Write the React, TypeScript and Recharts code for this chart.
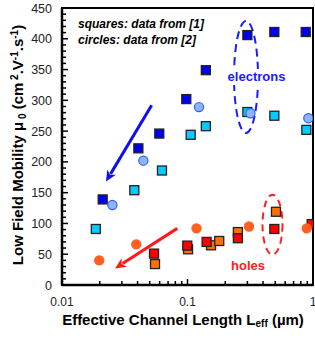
import React from 'react';
import { ScatterChart, Scatter, XAxis, YAxis, ReferenceArea, ReferenceLine, ReferenceDot } from 'recharts';

const FONT = '"Liberation Sans", Arial, sans-serif';

// ---- data ----
const elecSq1X = [0.0211, 0.0406, 0.0596, 0.0978, 0.14, 0.3, 0.492, 0.875];
const elecSq1Y = [139, 222, 246, 302, 349, 406, 411, 411];
const elecSq2X = [0.0186, 0.0377, 0.0626, 0.106, 0.14, 0.3, 0.492, 0.885];
const elecSq2Y = [91, 154, 186, 244, 258, 281, 275, 252];
const elecCirX = [0.0252, 0.0445, 0.1235, 0.317, 0.918];
const elecCirY = [130, 202, 289, 279, 271];
const holeCirX = [0.0198, 0.0391, 0.118, 0.309, 0.891];
const holeCirY = [40, 66, 92, 95, 92];
const holeRedX = [0.0541, 0.0996, 0.142, 0.252, 0.492, 0.976];
const holeRedY = [51, 64, 70, 76, 91, 99];
const holeOrX = [0.0551, 0.101, 0.154, 0.179, 0.252, 0.507];
const holeOrY = [34, 58, 64.5, 71.5, 86, 119];

// ---- ticks ----
const xMajorTicks = [0.01, 0.1, 1];
const xTickLabels = ['0.01', '0.1', '1'];
const xMinorTicks = [0.02, 0.03, 0.04, 0.05, 0.06, 0.07, 0.08, 0.09, 0.2, 0.3, 0.4, 0.5, 0.6, 0.7, 0.8, 0.9];
const yMajorTicks = [0, 50, 100, 150, 200, 250, 300, 350, 400, 450];
const yMinorStep = 10;
const yAllTicks: number[] = [];
for (let v = 0; v <= 450; v += yMinorStep) yAllTicks.push(v);

// ---- annotations ----
const noteTexts = ['squares: data from [1]', 'circles: data from [2]', 'electrons', 'holes'];
const noteX = [0.01341, 0.01341, 0.3546, 0.3034];
const noteY = [416.7, 391.5, 331.4, 23.6];
const ellipseX = [0.2926, 0.4756];
const ellipseY = [338, 98];
const blueArrow = [{ x: 0.0518, y: 292 }, { x: 0.0224, y: 168 }];
const redArrow = [{ x: 0.0829, y: 92 }, { x: 0.02644, y: 27 }];

const zip = (xs: number[], ys: number[]) => xs.map((x, i) => ({ x, y: ys[i] }));

const square = (color: string) => (p: any) => (
  <rect x={p.cx - 4.5} y={p.cy - 4.5} width={9} height={9} fill={color} stroke="#222" strokeWidth={1.3} />
);
const circle = (fill: string, stroke: string) => (p: any) => (
  <circle cx={p.cx} cy={p.cy} r={4.6} fill={fill} stroke={stroke} strokeWidth={1.2} />
);

const XTick = (p: any) => {
  const v = p.payload.value;
  const idx = xMajorTicks.indexOf(v);
  const major = idx >= 0;
  return (
    <g>
      <line x1={p.x} x2={p.x} y1={p.y} y2={p.y - (major ? 6 : 4)} stroke="#000" strokeWidth={1.5} />
      {major && (
        <text x={p.x} y={p.y + 21} textAnchor="middle" fontFamily={FONT} fontSize={12} fill="#222">
          {xTickLabels[idx]}
        </text>
      )}
    </g>
  );
};

const YTick = (p: any) => {
  const v = p.payload.value;
  const major = yMajorTicks.indexOf(v) >= 0;
  return (
    <g>
      <line x1={p.x} x2={p.x + (major ? 6 : 4)} y1={p.y} y2={p.y} stroke="#000" strokeWidth={1.5} />
      {major && (
        <text x={p.x - 10} y={p.y + 4.5} textAnchor="end" fontFamily={FONT} fontSize={12.5} fill="#222">
          {v}
        </text>
      )}
    </g>
  );
};

const arrowShape = (color: string) => (p: any) => {
  const { x1, y1, x2, y2 } = p;
  const ang = Math.atan2(y2 - y1, x2 - x1);
  const L = 11, W = 5;
  const bx = x2 - L * Math.cos(ang), by = y2 - L * Math.sin(ang);
  const px = -Math.sin(ang), py = Math.cos(ang);
  return (
    <g>
      <line x1={x1} y1={y1} x2={bx + 2 * Math.cos(ang)} y2={by + 2 * Math.sin(ang)} stroke={color} strokeWidth={3} />
      <polygon
        points={`${x2},${y2} ${bx + W * px},${by + W * py} ${bx + 3 * Math.cos(ang)},${by + 3 * Math.sin(ang)} ${bx - W * px},${by - W * py}`}
        fill={color}
      />
    </g>
  );
};

const YLabel = () => (
  <text
    x={23}
    y={145}
    transform="rotate(-90, 23, 145)"
    textAnchor="middle"
    fontFamily={FONT}
    fontWeight="bold"
    fontSize={15}
    fill="#000"
  >
    Low Field Mobility μ
    <tspan fontSize={10} dy={3}> 0</tspan>
    <tspan dy={-3}> (cm</tspan>
    <tspan fontSize={10} dy={-5}> 2</tspan>
    <tspan dy={5}>.V</tspan>
    <tspan fontSize={10} dy={-5}>-1</tspan>
    <tspan dy={5}>.s</tspan>
    <tspan fontSize={10} dy={-5}>-1</tspan>
    <tspan dy={5}>)</tspan>
  </text>
);

const XLabel = () => (
  <text x={183} y={325} textAnchor="middle" fontFamily={FONT} fontWeight="bold" fontSize={15} fill="#000">
    Effective Channel Length L
    <tspan fontSize={10} dy={2}>eff</tspan>
    <tspan dy={-2}> (µm)</tspan>
  </text>
);

export default function App() {
  return (
    <div style={{ position: 'absolute', left: 0, top: 0, background: '#fff' }}>
      <ScatterChart width={315} height={338} margin={{ top: 8, right: 2, bottom: 0, left: 0 }}>
        <XAxis
          dataKey="x"
          type="number"
          scale="log"
          domain={[0.01, 1]}
          allowDataOverflow
          ticks={[...xMajorTicks, ...xMinorTicks].sort((a, b) => a - b)}
          interval={0}
          height={53}
          tickSize={0}
          tickMargin={0}
          tickLine={false}
          axisLine={{ stroke: '#000', strokeWidth: 2.5 }}
          tick={<XTick />}
          label={<XLabel />}
        />
        <YAxis
          dataKey="y"
          type="number"
          domain={[0, 450]}
          allowDataOverflow
          ticks={yAllTicks}
          interval={0}
          width={62}
          tickSize={0}
          tickMargin={0}
          tickLine={false}
          axisLine={{ stroke: '#000', strokeWidth: 2.5 }}
          tick={<YTick />}
          label={<YLabel />}
        />
        <ReferenceArea x1={0.01} x2={1} y1={0} y2={450} fill="none" stroke="#000" strokeWidth={2} />
        <ReferenceDot
          x={noteX[0]}
          y={noteY[0]}
          r={1}
          shape={(p: any) => (
            <text x={p.cx} y={p.cy} fontFamily={FONT} fontSize={12} fontWeight="bold" fontStyle="italic" fill="#000">
              {noteTexts[0]}
            </text>
          )}
        />
        <ReferenceDot
          x={noteX[1]}
          y={noteY[1]}
          r={1}
          shape={(p: any) => (
            <text x={p.cx} y={p.cy} fontFamily={FONT} fontSize={12} fontWeight="bold" fontStyle="italic" fill="#000">
              {noteTexts[1]}
            </text>
          )}
        />
        <ReferenceDot
          x={ellipseX[0]}
          y={ellipseY[0]}
          r={1}
          shape={(p: any) => (
            <ellipse cx={p.cx} cy={p.cy} rx={12} ry={56} fill="none" stroke="#1a1aff" strokeWidth={2} strokeDasharray="8 5" />
          )}
        />
        <ReferenceDot
          x={ellipseX[1]}
          y={ellipseY[1]}
          r={1}
          shape={(p: any) => (
            <ellipse cx={p.cx} cy={p.cy} rx={10} ry={30} fill="none" stroke="#ff2020" strokeWidth={2} strokeDasharray="7 5" />
          )}
        />
        <ReferenceDot
          x={noteX[2]}
          y={noteY[2]}
          r={1}
          shape={(p: any) => (
            <g>
              <rect x={p.cx - 32} y={p.cy - 12} width={64} height={16} fill="#fff" />
              <text x={p.cx} y={p.cy} textAnchor="middle" fontFamily={FONT} fontSize={13} fontWeight="bold" fill="#1a1aff">
                {noteTexts[2]}
              </text>
            </g>
          )}
        />
        <ReferenceDot
          x={noteX[3]}
          y={noteY[3]}
          r={1}
          shape={(p: any) => (
            <text x={p.cx} y={p.cy} textAnchor="middle" fontFamily={FONT} fontSize={13} fontWeight="bold" fill="#ff2020">
              {noteTexts[3]}
            </text>
          )}
        />
        <ReferenceLine segment={blueArrow} shape={arrowShape('#1010ee')} />
        <ReferenceLine segment={redArrow} shape={arrowShape('#ff1a1a')} />
        <Scatter data={zip(elecSq2X, elecSq2Y)} shape={square('#00ccff')} isAnimationActive={false} />
        <Scatter data={zip(elecSq1X, elecSq1Y)} shape={square('#0000f0')} isAnimationActive={false} />
        <Scatter data={zip(elecCirX, elecCirY)} shape={circle('#8db4ff', '#3060ff')} isAnimationActive={false} />
        <Scatter data={zip(holeOrX, holeOrY)} shape={square('#ff7000')} isAnimationActive={false} />
        <Scatter data={zip(holeRedX, holeRedY)} shape={square('#ff0000')} isAnimationActive={false} />
        <Scatter data={zip(holeCirX, holeCirY)} shape={circle('#ff5f1f', '#ff5f1f')} isAnimationActive={false} />
      </ScatterChart>
    </div>
  );
}
